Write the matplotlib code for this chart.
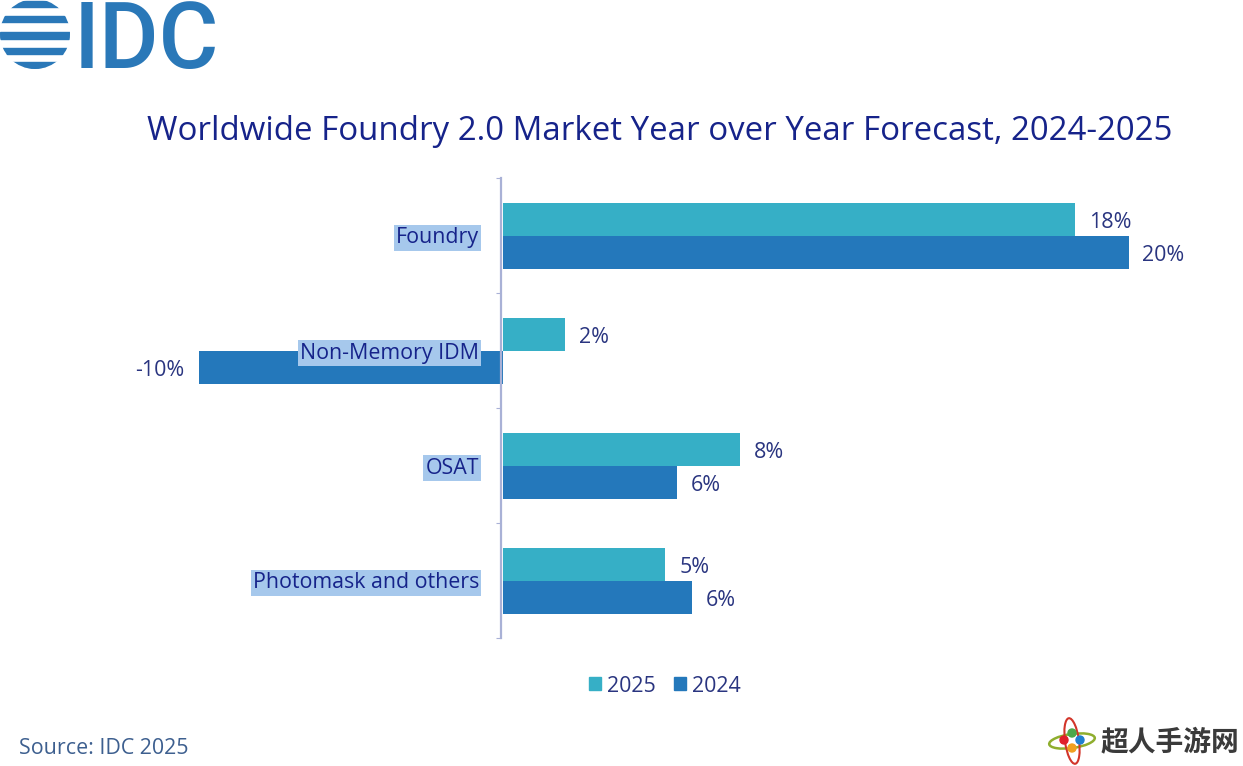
import matplotlib
matplotlib.use("Agg")
import matplotlib.pyplot as plt
from matplotlib.patches import Rectangle, Circle, Ellipse, Patch
import numpy as np

W, H = 1243, 766
categories = ["Foundry", "Non-Memory IDM", "OSAT", "Photomask and others"]
values_2025 = [18.3, 2.0, 7.6, 5.2]
values_2024 = [20.0, -9.7, 5.56, 6.04]
series_names = ["2025", "2024"]
title = "Worldwide Foundry 2.0 Market Year over Year Forecast, 2024-2025"
source = "Source: IDC 2025"

C25, C24 = "#36afc6", "#2478bb"
NAVY, LABEL = "#16238a", "#2a3580"
FONT = "Open Sans"
FS = 15.4
plt.rcParams["font.family"] = FONT

fig = plt.figure(figsize=(W / 100, H / 100), dpi=100, facecolor="white")

# chart axes: positioned in pixels
L, R, T, B = 150, 1200, 178, 638
ax = fig.add_axes([L / W, 1 - B / H, (R - L) / W, (B - T) / H])
ppu = 31.3
ax.set_xlim((L - 502.5) / ppu, (R - 502.5) / ppu)
ax.set_ylim(3.5, -0.5)
y = np.arange(len(categories))
bh = 33 / 115
ax.barh(y - bh / 2, values_2025, bh, color=C25, zorder=1)
ax.barh(y + bh / 2, values_2024, bh, color=C24, zorder=1)

for i in range(len(categories)):
    for v, yy in ((values_2025[i], i - bh / 2), (values_2024[i], i + bh / 2)):
        ax.annotate(f"{v:.0f}%", (v, yy), xytext=(10 if v > 0 else -10.5, -2.7),
                    textcoords="offset points", ha="left" if v > 0 else "right",
                    va="center", fontsize=FS, color=LABEL)

for s in ("top", "right", "bottom"):
    ax.spines[s].set_visible(False)
ax.spines["left"].set_position(("data", -0.06))
ax.spines["left"].set_color("#a9b1d6")
ax.spines["left"].set_linewidth(1.6)
ax.set_xticks([])
ax.set_yticks(np.arange(-0.5, 3.6, 1))
ax.set_yticklabels([])
ax.tick_params(axis="y", which="major", length=3.5, width=0.8, color="#a9b1d6")
ax.set_yticks(y, minor=True)
ax.set_yticklabels(categories, minor=True, fontsize=FS, color=NAVY,
                   bbox=dict(facecolor="#a6c8ec", edgecolor="none", pad=1.5))
ax.tick_params(axis="y", which="minor", length=0, pad=15.5)
for t in ax.get_yticklabels(minor=True):
    t.set_verticalalignment("center_baseline")

fig.legend(handles=[Patch(color=C25, label=series_names[0]), Patch(color=C24, label=series_names[1])],
           loc="center", bbox_to_anchor=(665 / W, 1 - 686 / H), ncol=2, frameon=False,
           fontsize=FS, labelcolor=LABEL, handlelength=0.56, handleheight=0.56,
           handletextpad=0.28, columnspacing=0.84)

fig.text(660 / W, 1 - 131 / H, title, ha="center", va="center", fontsize=23.8, color=NAVY)
fig.text(19 / W, 1 - 749 / H, source, ha="left", va="center", fontsize=FS, color="#3d5f8f")

# overlay in pixel coordinates for logo and watermark
ov = fig.add_axes([0, 0, 1, 1], facecolor="none")
ov.set_xlim(0, W)
ov.set_ylim(H, 0)
ov.axis("off")

LOGO = "#2a78b8"
globe = Circle((35, 34), 35, transform=ov.transData)
for yc, h in ((3.5, 6), (18.5, 6), (35, 7), (50.5, 6), (65, 6)):
    r = Rectangle((0, yc - h / 2), 70, h, color=LOGO)
    ov.add_patch(r)
    r.set_clip_path(globe)
ov.text(74, 68, "IDC", fontsize=66, fontweight="medium", color=LOGO, family="Roboto",
        ha="left", va="baseline")

# watermark
ov.add_patch(Ellipse((1072, 741), 46, 14, angle=-8, fill=False, ec="#8fae2e", lw=1.8))
ov.add_patch(Ellipse((1072, 741), 14, 46, angle=-8, fill=False, ec="#d2352a", lw=1.5))
for (cx, cy), col in (((1072, 733), "#4da84a"), ((1064, 740), "#e0202a"),
                      ((1080, 740), "#1f7fd0"), ((1072, 748), "#f0a020")):
    ov.add_patch(Circle((cx, cy), 4, color=col))
ov.text(1101, 742, "超人手游网", fontsize=20, fontweight="bold", color="#3a3a3a",
        family=["Noto Sans CJK SC", "DejaVu Sans"], ha="left", va="center")

fig.savefig("out.png", dpi=100)
